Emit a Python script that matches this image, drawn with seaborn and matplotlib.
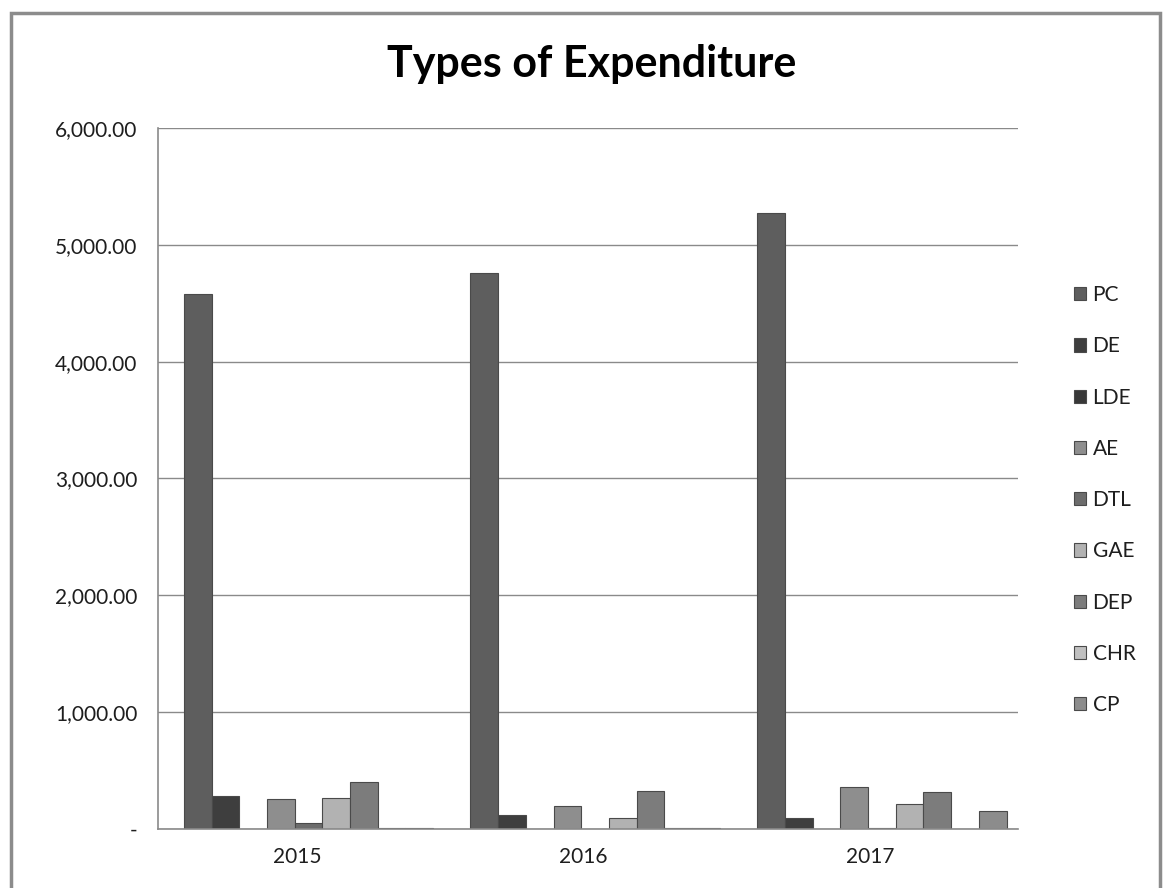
import numpy as np
import pandas as pd
import matplotlib
matplotlib.use("Agg")
import matplotlib.pyplot as plt
from matplotlib.patches import Rectangle
from matplotlib.ticker import FuncFormatter
import seaborn as sns

# ---- data ----
years = ["2015", "2016", "2017"]
types = ["PC", "DE", "LDE", "AE", "DTL", "GAE", "DEP", "CHR", "CP"]
PC  = [4580, 4760, 5270]
DE  = [282, 116, 96]
LDE = [np.nan, np.nan, np.nan]
AE  = [258, 195, 358]
DTL = [53, np.nan, 6]
GAE = [267, 96, 216]
DEP = [400, 324, 315]
CHR = [6, 6, np.nan]
CP  = [6, 6, 158]
yticks = [0, 1000, 2000, 3000, 4000, 5000, 6000]

series = {"PC": PC, "DE": DE, "LDE": LDE, "AE": AE, "DTL": DTL,
          "GAE": GAE, "DEP": DEP, "CHR": CHR, "CP": CP}
rows = []
for t in types:
    for y, v in zip(years, series[t]):
        rows.append({"year": y, "type": t, "value": v})
df = pd.DataFrame(rows)

palette = {"PC": "#5e5e5e", "DE": "#3e3e3e", "LDE": "#383838", "AE": "#8e8e8e",
           "DTL": "#6c6c6c", "GAE": "#b2b2b2", "DEP": "#7c7c7c", "CHR": "#c0c0c0",
           "CP": "#8c8c8c"}

sns.set_theme(style="white")
plt.rcParams["font.family"] = ["Lato", "DejaVu Sans"]

fig = plt.figure(figsize=(11.64, 8.88), dpi=100)
ax = fig.add_axes([158/1164, 1-829/888, 860/1164, 701/888])

sns.barplot(data=df, x="year", y="value", hue="type", hue_order=types,
            order=years, palette=palette, saturation=1, width=0.87,
            dodge=True, edgecolor="#4a4a4a", linewidth=0.8, ax=ax, errorbar=None)

ax.set_xlim(-0.525, 2.475)
ax.set_ylim(0, 6000)
ax.set_yticks(yticks)
ax.yaxis.set_major_formatter(FuncFormatter(lambda v, p: "-" if v == 0 else f"{v:,.2f}"))
ax.set_xticks([i - 0.04 for i in range(len(years))])
ax.set_xticklabels(years)
ax.tick_params(axis="both", length=0, labelsize=15, colors="#1e1e1e")
ax.tick_params(axis="y", pad=15)
ax.tick_params(axis="x", pad=13)
ax.set_xlabel("")
ax.set_ylabel("")
ax.grid(axis="y", color="#8a8a8a", linewidth=1.0)
ax.set_axisbelow(True)
for s in ["top", "right"]:
    ax.spines[s].set_visible(False)
for s in ["left", "bottom"]:
    ax.spines[s].set_color("#8a8a8a")
    ax.spines[s].set_linewidth(1.2)

leg = ax.legend(loc="center left", bbox_to_anchor=(1055/1164, 1-500/888),
                bbox_transform=fig.transFigure, frameon=False, fontsize=15,
                handlelength=0.6, handleheight=0.6, handletextpad=0.3,
                labelspacing=1.5)
for h in leg.legend_handles:
    h.set_edgecolor("#4a4a4a")
for t in leg.get_texts():
    t.set_color("#1e1e1e")

fig.text(592/1164, 1-64/888, "Types of Expenditure", ha="center", va="center",
         fontsize=31, fontweight="bold", color="black")

# outer chart border
fig.patches.append(Rectangle((11/1164, -0.05), (1160-11)/1164, 1.05 - 13/888,
                             transform=fig.transFigure, fill=False,
                             edgecolor="#8c8c8c", linewidth=2.5))

fig.savefig("out.png", dpi=100, facecolor="white")
